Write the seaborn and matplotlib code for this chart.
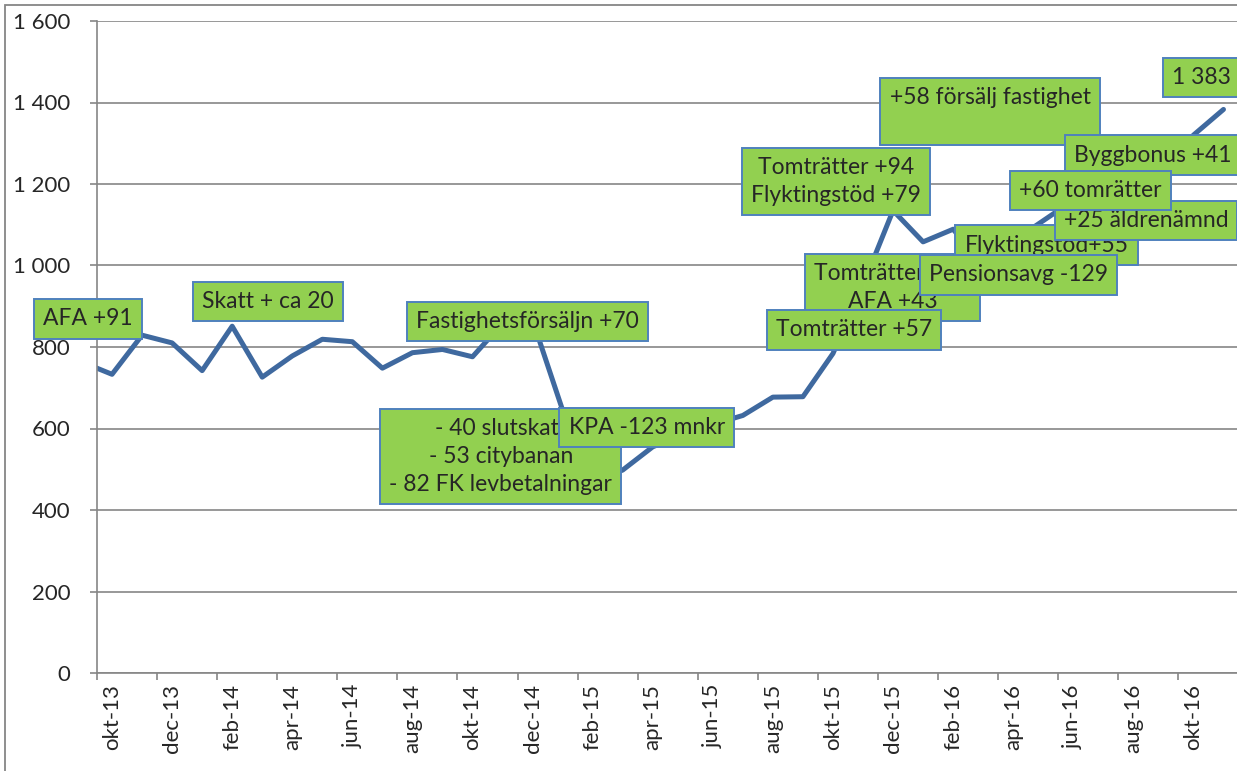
import numpy as np
import pandas as pd
import matplotlib
matplotlib.use("Agg")
import matplotlib.pyplot as plt
from matplotlib.ticker import FixedLocator, FuncFormatter
from matplotlib.patches import Rectangle
import seaborn as sns

# monthly values, sep-13 .. nov-16 (sep-13 lies just left of the axis and is clipped)
months = ["sep-13", "okt-13", "nov-13", "dec-13",
          "jan-14", "feb-14", "mar-14", "apr-14", "maj-14", "jun-14",
          "jul-14", "aug-14", "sep-14", "okt-14", "nov-14", "dec-14",
          "jan-15", "feb-15", "mar-15", "apr-15", "maj-15", "jun-15",
          "jul-15", "aug-15", "sep-15", "okt-15", "nov-15", "dec-15",
          "jan-16", "feb-16", "mar-16", "apr-16", "maj-16", "jun-16",
          "jul-16", "aug-16", "sep-16", "okt-16", "nov-16"]
values = [763, 733, 829, 810,
          742, 851, 726, 778, 819, 813,
          748, 786, 794, 776, 858, 866,
          645, 470, 498, 555, 585, 610,
          632, 677, 678, 784, 952, 1135,
          1058, 1089, 1000, 1060, 1110, 1160,
          1165, 1190, 1235, 1320, 1383]
tick_labels = ["okt-13", "dec-13", "feb-14", "apr-14", "jun-14", "aug-14",
               "okt-14", "dec-14", "feb-15", "apr-15", "jun-15", "aug-15",
               "okt-15", "dec-15", "feb-16", "apr-16", "jun-16", "aug-16",
               "okt-16"]

# text boxes: text, centre (month index, value), stacking order
notes = ["AFA +91", "Skatt + ca 20", "Fastighetsförsäljn +70",
         "- 40 slutskatt\n- 53 citybanan\n- 82 FK levbetalningar",
         "KPA -123 mnkr", "Tomträtter +50\nAFA +43", "Tomträtter +57",
         "Tomträtter +94\nFlyktingstöd +79", "+58 försälj fastighet\n ",
         "Flyktingstöd+55", "Pensionsavg -129", "+25 äldrenämnd",
         "Byggbonus +41", "+60 tomrätter", "1 383"]
note_x = [-0.80, 5.20, 13.84, 12.94, 17.80, 25.98, 24.70, 24.09, 29.23,
          31.11, 30.18, 34.42, 34.65, 32.57, 36.27]
note_y = [869, 912, 863, 531, 602, 946, 842, 1206, 1378,
          1050, 977, 1110, 1271, 1184, 1461]
note_z = [3, 3, 3, 3, 4, 3, 4, 3, 3, 3, 5, 4, 4, 5, 3]

df = pd.DataFrame({"month": months, "value": values})
df["pos"] = np.arange(len(df)) - 1

sns.set_style("white")
plt.rcParams["font.family"] = ["Lato", "DejaVu Sans"]

fig = plt.figure(figsize=(12.37, 7.71), dpi=100)
ax = fig.add_axes([97 / 1237, 98 / 771, 1140 / 1237, 652 / 771])

grey = "#868686"
sns.lineplot(data=df, x="pos", y="value", ax=ax, color="#3F699F",
             linewidth=3.6, zorder=2)

ax.set_xlim(-0.5, 37.45)
ax.set_ylim(0, 1600)
ax.set_xlabel("")
ax.set_ylabel("")

ax.yaxis.set_major_locator(FixedLocator(np.arange(0, 1601, 200)))
ax.yaxis.set_major_formatter(FuncFormatter(lambda v, p: f"{int(v):,}".replace(",", " ")))
ax.grid(axis="y", color=grey, linewidth=1.2)
ax.set_axisbelow(True)

label_pos = np.arange(0, 37, 2)
ax.xaxis.set_major_locator(FixedLocator(label_pos))
ax.set_xticklabels(tick_labels, rotation=90, va="top", ha="center")
ax.xaxis.set_minor_locator(FixedLocator(label_pos - 0.5))
ax.tick_params(axis="x", which="major", length=0, pad=8, labelsize=16)
ax.tick_params(axis="x", which="minor", length=5, width=1.2, color=grey, bottom=True)
ax.tick_params(axis="y", length=5, width=1.2, color=grey, pad=14, labelsize=16, left=True)

for side in ["top", "right"]:
    ax.spines[side].set_visible(False)
for side in ["left", "bottom"]:
    ax.spines[side].set_color(grey)
    ax.spines[side].set_linewidth(1.2)

for txt, x, y, z in zip(notes, note_x, note_y, note_z):
    ax.text(x, y, txt, ha="center", va="center", fontsize=16.5, linespacing=1.4,
            zorder=z, clip_on=False,
            bbox=dict(boxstyle="square,pad=0.4", fc="#92D050", ec="#4F81BD", lw=1.4))

fig.patches.append(Rectangle((5 / 1237, -0.01), 1.1, (766 / 771) + 0.01,
                             transform=fig.transFigure, fill=False,
                             edgecolor=grey, linewidth=1.3))

plt.savefig("out.png", dpi=100)
